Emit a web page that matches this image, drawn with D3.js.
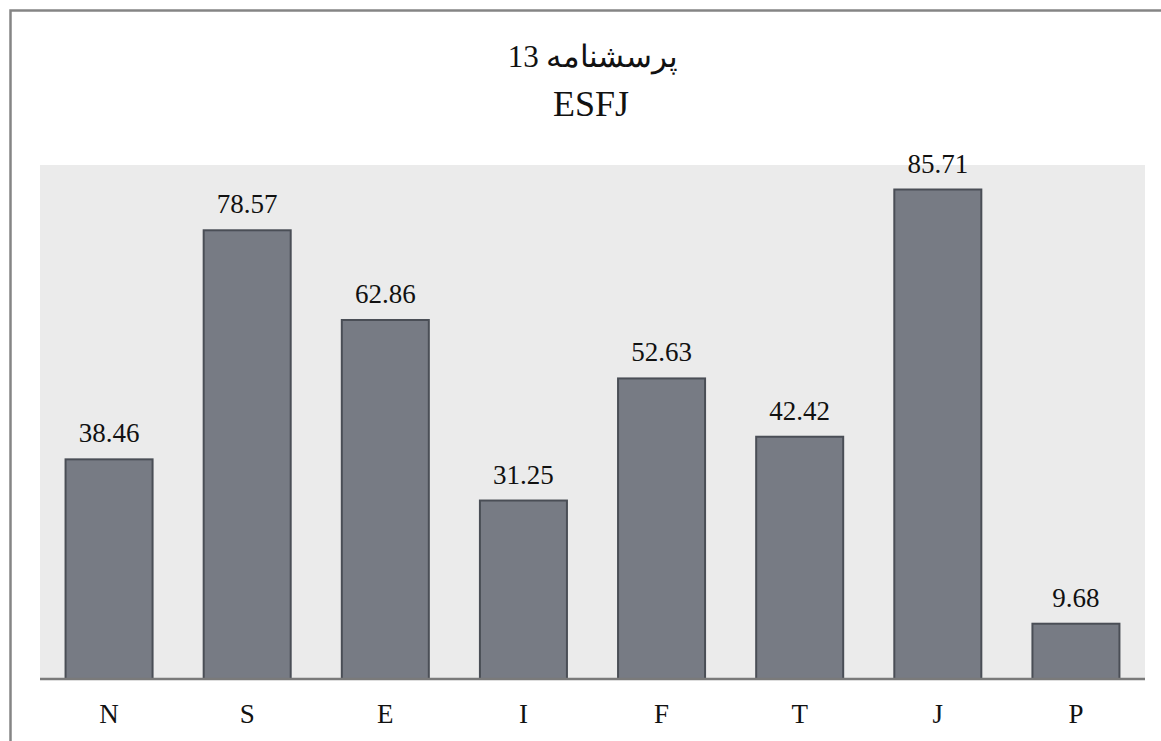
<!DOCTYPE html>
<html>
<head>
<meta charset="utf-8">
<script src="https://cdn.jsdelivr.net/npm/d3@7"></script>
<style>
  html, body { margin: 0; padding: 0; background: #ffffff; overflow: hidden; }
  svg { display: block; }
</style>
</head>
<body>
<svg id="chart" width="1161" height="741"></svg>
<script>
const categories = ["N", "S", "E", "I", "F", "T", "J", "P"];
const values = [38.46, 78.57, 62.86, 31.25, 52.63, 42.42, 85.71, 9.68];
const titleLine1 = "پرسشنامه 13";
const titleLine2 = "ESFJ";
const yDomain = [0, 90];

const svg = d3.select("#chart");
const W = 1161, H = 741;
const plot = { left: 40, right: 1145, top: 165, bottom: 679 };
const serif = "'Liberation Serif', 'DejaVu Serif', serif";

// outer frame
svg.append("rect")
  .attr("x", 10.5).attr("y", 10.5)
  .attr("width", W + 20).attr("height", H + 20)
  .attr("fill", "#ffffff")
  .attr("stroke", "#858585").attr("stroke-width", 2.5);

// plot background
svg.append("rect")
  .attr("x", plot.left).attr("y", plot.top)
  .attr("width", plot.right - plot.left).attr("height", plot.bottom - plot.top)
  .attr("fill", "#ebebeb");

const x = d3.scaleBand().domain(categories).range([plot.left, plot.right]).paddingInner(0.37).paddingOuter(0.185);
const y = d3.scaleLinear().domain(yDomain).range([plot.bottom, plot.top]);

const data = categories.map((c, i) => ({ c, v: values[i] }));

svg.append("g").selectAll("rect").data(data).join("rect")
  .attr("x", d => x(d.c)).attr("y", d => y(d.v))
  .attr("width", x.bandwidth()).attr("height", d => y(0) - y(d.v))
  .attr("fill", "#777b84")
  .attr("stroke", "#4a4e56").attr("stroke-width", 2);

svg.append("g").selectAll("text").data(data).join("text")
  .attr("x", d => x(d.c) + x.bandwidth() / 2)
  .attr("y", d => y(d.v) - 17)
  .attr("text-anchor", "middle")
  .attr("font-family", serif).attr("font-size", 27)
  .attr("fill", "#111")
  .text(d => d.v.toFixed(2));

// x axis
const xAxis = d3.axisBottom(x).tickSize(0).tickPadding(0);
const gx = svg.append("g").attr("transform", `translate(0,${plot.bottom})`).call(xAxis);
gx.select(".domain").remove();
gx.selectAll("text")
  .attr("dy", 0).attr("y", 44)
  .attr("font-family", serif).attr("font-size", 27).attr("fill", "#111");

svg.append("line")
  .attr("x1", plot.left).attr("x2", plot.right)
  .attr("y1", plot.bottom).attr("y2", plot.bottom)
  .attr("stroke", "#7a7a7a").attr("stroke-width", 2.5);

// titles
svg.append("text")
  .attr("x", 593).attr("y", 67)
  .attr("text-anchor", "middle").attr("direction", "rtl")
  .attr("font-family", serif).attr("font-size", 31).attr("fill", "#111")
  .text(titleLine1);
svg.append("text")
  .attr("x", 591).attr("y", 116)
  .attr("text-anchor", "middle")
  .attr("font-family", serif).attr("font-size", 36).attr("fill", "#111")
  .text(titleLine2);
</script>
</body>
</html>
